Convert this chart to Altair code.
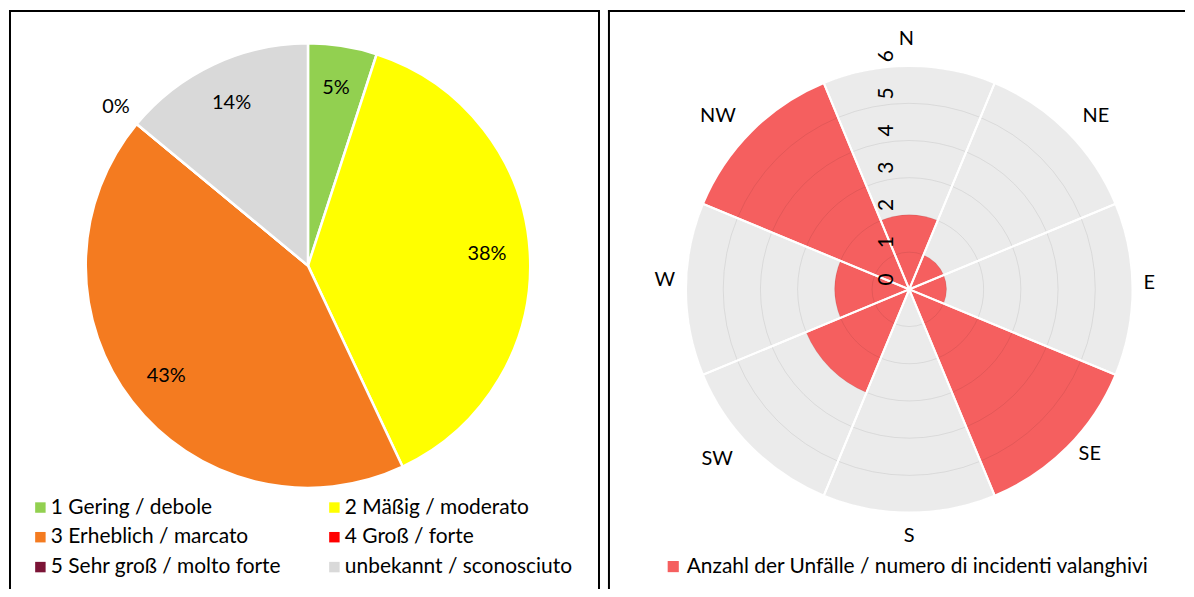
import math
import altair as alt
import pandas as pd

# ---------------- data ----------------
# Left panel: avalanche danger level at accident (share in %)
levels = [
    "1 Gering / debole",
    "2 Mäßig / moderato",
    "3 Erheblich / marcato",
    "4 Groß / forte",
    "5 Sehr groß / molto forte",
    "unbekannt / sconosciuto",
]
level_pct = [5, 38, 43, 0, 0, 14]
level_colors = ["#92D050", "#FFFF00", "#F47B20", "#FF0000", "#7B1436", "#D9D9D9"]

# Right panel: accidents per aspect
directions = ["N", "NE", "E", "SE", "S", "SW", "W", "NW"]
accidents = [2, 1, 1, 6, 0, 3, 2, 6]
radial_ticks = [0, 1, 2, 3, 4, 5, 6]
rose_series = "Anzahl der Unfälle / numero di incidenti valanghivi"
rose_color = "#F55F5F"

FONT = "Lato"
LW, RW, PH = 592, 579, 581
frame_df = pd.DataFrame({"f": [0]})


def frame(width, right_edge):
    """Panel frame: left, top (and optionally right) border lines."""
    base = alt.Chart(frame_df)
    layers = [
        base.mark_rule(color="black", strokeWidth=2).encode(
            x=alt.value(1), y=alt.value(0), y2=alt.value(PH)),
        base.mark_rule(color="black", strokeWidth=2).encode(
            x=alt.value(0), x2=alt.value(width), y=alt.value(1)),
    ]
    if right_edge:
        layers.append(base.mark_rule(color="black", strokeWidth=2).encode(
            x=alt.value(width), y=alt.value(0), y2=alt.value(PH)))
    return layers


# ---------------- left: pie ----------------
pie_df = pd.DataFrame({
    "level": levels,
    "pct": level_pct,
    "ord": list(range(len(levels))),
    "label": [f"{p}%" for p in level_pct],
})

cxl, cyl = 300, 256.5
pie_base = alt.Chart(pie_df).encode(
    theta=alt.Theta("pct:Q", stack=True),
    order=alt.Order("ord:Q"),
    x=alt.value(cxl),
    y=alt.value(cyl),
)

legend_order = [levels[0], levels[2], levels[4], levels[1], levels[3], levels[5]]
slices = pie_base.mark_arc(radius=223, stroke="white", strokeWidth=2.5).encode(
    color=alt.Color(
        "level:N",
        scale=alt.Scale(domain=levels, range=level_colors),
        sort=levels,
        legend=alt.Legend(
            title=None, orient="none", legendX=21, legendY=488.5,
            values=legend_order,
            columns=2, symbolType="square", symbolSize=110, symbolStrokeWidth=0,
            labelFont=FONT, labelFontSize=21, labelColor="black",
            columnPadding=42, rowPadding=8, labelOffset=0, labelLimit=400,
        ),
    )
)
inner_labels = pie_base.transform_filter("datum.pct > 0").mark_text(
    radius=180, font=FONT, fontSize=20, color="black"
).encode(text="label:N")
# zero-share label placed outside the pie (Excel style)
outer_labels = pie_base.mark_text(
    radius=250, font=FONT, fontSize=20, color="black"
).encode(
    text="label:N",
    opacity=alt.condition("datum.pct == 0 && datum.ord == 3", alt.value(1), alt.value(0)),
)

left = alt.layer(slices, inner_labels, outer_labels, *frame(LW, True)).properties(
    width=LW, height=PH
)

# ---------------- right: rose ----------------
rose_df = pd.DataFrame({
    "dir": directions,
    "n": accidents,
    "idx": list(range(len(directions))),
    "series": [rose_series] * len(directions),
})
ring_df = pd.DataFrame({"r": radial_ticks[1:]})
tick_df = pd.DataFrame({"v": radial_ticks})

cxr, cyr = 302.3, 280.3
theta_scale = alt.Scale(domain=[0, len(directions)])
r_scale = alt.Scale(type="linear", domain=[0, max(radial_ticks)], range=[0, 224], zero=True)

rose_base = alt.Chart(rose_df).transform_calculate(
    t0="datum.idx - 0.5", t1="datum.idx + 0.5", rmax=str(max(radial_ticks))
).encode(
    theta=alt.Theta("t0:Q", scale=theta_scale, stack=False),
    theta2="t1:Q",
    x=alt.value(cxr),
    y=alt.value(cyr),
)

bg = rose_base.mark_arc(fill="#EBEBEB").encode(
    radius=alt.Radius("rmax:Q", scale=r_scale, stack=False)
)
bars = rose_base.mark_arc().encode(
    radius=alt.Radius("n:Q", scale=r_scale, stack=False),
    color=alt.Color(
        "series:N",
        scale=alt.Scale(domain=[rose_series], range=[rose_color]),
        legend=alt.Legend(
            title=None, orient="none", legendX=55, legendY=548,
            symbolType="square", symbolSize=125, symbolStrokeWidth=0,
            labelFont=FONT, labelFontSize=21, labelColor="black",
            labelOffset=3, labelLimit=600,
        ),
    ),
)
rings = alt.Chart(ring_df).mark_arc(
    theta=0, theta2=2 * math.pi, fillOpacity=0, stroke="black", strokeOpacity=0.08, strokeWidth=1
).encode(
    radius=alt.Radius("r:Q", scale=r_scale, stack=False),
    x=alt.value(cxr),
    y=alt.value(cyr),
)
separators = rose_base.mark_arc(fillOpacity=0, stroke="white", strokeWidth=2).encode(
    radius=alt.Radius("rmax:Q", scale=r_scale, stack=False)
)
tick_labels = alt.Chart(tick_df).mark_text(
    theta=0, angle=270, dx=10, dy=-22, font=FONT, fontSize=21, color="black",
    align="center", baseline="middle",
).encode(
    radius=alt.Radius("v:Q", scale=r_scale, stack=False),
    text="v:Q",
    x=alt.value(cxr),
    y=alt.value(cyr),
)


def dir_layer(names, radius, align, baseline, dy=0, dx=0):
    return alt.Chart(rose_df).transform_filter(
        alt.FieldOneOfPredicate(field="dir", oneOf=names)
    ).mark_text(
        radius=radius, font=FONT, fontSize=20, color="black",
        align=align, baseline=baseline, dx=dx, dy=dy,
    ).encode(
        theta=alt.Theta("idx:Q", scale=theta_scale, stack=False),
        text="dir:N",
        x=alt.value(cxr),
        y=alt.value(cyr),
    )


dir_labels = [
    dir_layer(["N"], 241, "center", "bottom", dx=-3),
    dir_layer(["S"], 238, "center", "top"),
    dir_layer(["E"], 235, "left", "middle", dy=-6),
    dir_layer(["W"], 235, "right", "middle", dy=-9),
    dir_layer(["NE"], 246, "left", "middle"),
    dir_layer(["NW"], 246, "right", "middle"),
    dir_layer(["SE"], 246, "left", "middle", dy=-9, dx=-4),
    dir_layer(["SW"], 246, "right", "middle", dy=-4, dx=-3),
]

right = alt.layer(
    bg, bars, rings, separators, tick_labels, *dir_labels, *frame(RW, False)
).properties(width=RW, height=PH)

chart = (
    alt.hconcat(left, right, spacing=7)
    .resolve_scale(color="independent", theta="independent", radius="independent")
    .properties(padding=0, background="white")
    .configure_view(stroke=None)
)

chart.save("out.html", embed_options={"renderer": "svg", "actions": False})
